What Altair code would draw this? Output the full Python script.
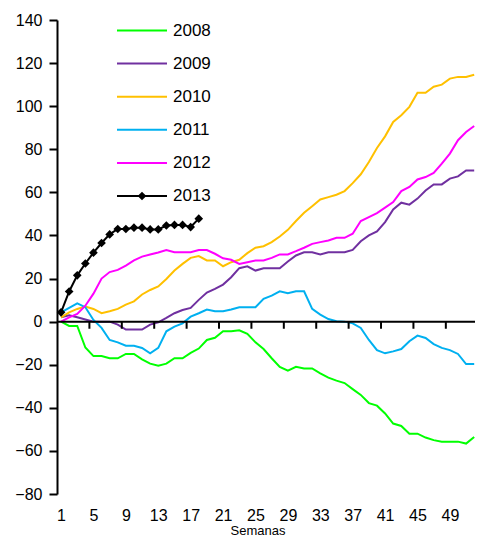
import altair as alt
import pandas as pd

weeks = list(range(1, 53))
years = ["2008", "2009", "2010", "2011", "2012", "2013"]
colors = ["#00FF00", "#7030A0", "#FFC000", "#00B0F0", "#FF00FF", "#000000"]

s2008 = [0, -2, -2, -12, -16, -16, -17, -17, -15, -15, -17.5, -19.5, -20.5, -19.5, -17, -17,
         -14.5, -12.5, -8.5, -7.5, -4.5, -4.5,
         -4, -5.7, -9.6, -12.7, -17, -21, -22.8, -21, -21.7, -21.7, -24, -26, -27.4, -28.5,
         -31.3, -34, -37.8, -39, -42.6, -47.3, -48.4, -52, -52, -53.8, -55, -55.7, -55.7,
         -55.7, -56.6, -53.5]
s2009 = [2, 3, 2, 1, 0, 0, 0, -1.4, -3.7, -3.7, -3.7, -1.4, -0.3, 1.7, 3.9, 5.4, 6.4, 10.1,
         13.5, 15.2, 17.2, 20.6,
         24.8, 25.7, 23.7, 24.8, 24.8, 24.8, 27.9, 30.7, 32.2, 32.2, 31.2, 32.2, 32.2, 32.2,
         33.3, 37.3, 40, 41.9, 46.2, 52.1, 55.2, 54.3, 57.1, 60.9, 63.7, 63.7, 66.4, 67.4,
         70.2, 70.2]
s2010 = [2, 4.3, 5.9, 7, 5.9, 3.9, 4.8, 5.9, 7.9, 9.4, 12.6, 14.7, 16.3, 19.8, 23.7, 26.8,
         29.6, 30.4, 28.4, 28.4, 25.7, 27.6,
         28.7, 31.8, 34.3, 35, 36.9, 39.5, 42.6, 46.7, 50.5, 53.6, 56.7, 57.8, 58.9, 60.6,
         64.3, 68.4, 74.1, 80.6, 86, 92.7, 95.8, 99.7, 106.2, 106.2, 109, 110, 112.8, 113.6,
         113.6, 114.6]
s2011 = [4.3, 6.4, 8.5, 6.7, 0.8, -2.9, -8.5, -9.6, -11.2, -11.2, -12.2, -14.7, -12.2, -4.5,
         -2.3, -0.8, 2.3, 3.9, 5.6, 4.8, 4.8, 5.6,
         6.7, 6.7, 6.7, 10.6, 12.1, 14.1, 13.2, 14.1, 14.1, 5.9, 3.3, 1.2, 0.2, 0, -0.8, -2.9,
         -8.5, -13.2, -14.7, -13.8, -12.7, -9.1, -6.5, -7.6, -10.4, -12.2, -13.2, -15, -19.7,
         -19.7]
s2012 = [0, 2, 3.6, 7.4, 13, 20, 23, 24, 26, 28.4, 30.2, 31.2, 32.1, 33.2, 32.2, 32.2, 32.2,
         33.2, 33.2, 31.5, 29.4, 28.7,
         26.8, 27.6, 28.4, 28.4, 29.6, 31.2, 31.2, 32.7, 34.3, 36.1, 36.9, 37.7, 38.9, 38.9,
         40.8, 46.7, 48.5, 50.4, 52.9, 55.5, 60.6, 62.5, 66, 67.1, 69, 73.3, 78, 84.2, 88, 90.8]
s2013 = [4.3, 14, 21.5, 27, 32, 36.5, 40.5, 43, 43, 43.6, 43.6, 42.8, 42.8, 44.6, 44.9, 44.9,
         43.9, 47.8]
series = [s2008, s2009, s2010, s2011, s2012, s2013]

x_label_values = [1, 5, 9, 13, 17, 21, 25, 29, 33, 37, 41, 45, 49]
x_tick_values = [4.5, 8.5, 12.5, 16.5, 20.5, 24.5, 28.5, 32.5, 36.5, 40.5, 44.5, 48.5]
y_tick_values = [-80, -60, -40, -20, 0, 20, 40, 60, 80, 100, 120, 140]

rows = []
for yr, vals in zip(years, series):
    for w, v in zip(weeks, vals):
        rows.append({"week": w, "value": v, "year": yr})
df = pd.DataFrame(rows)

W, H = 418, 474
FONT = "Liberation Sans"
xscale = alt.Scale(domain=[0.5, 52.1], nice=False, zero=False)
yscale = alt.Scale(domain=[-80, 140], nice=False, zero=False)

xaxis = alt.Axis(values=x_label_values, ticks=False, domain=False, grid=False,
                 title="Semanas", labelFont=FONT, labelFontSize=16,
                 labelColor="black", labelPadding=13, labelFlush=False,
                 labelOverlap=False,
                 titleFont=FONT, titleFontSize=13, titleFontWeight="normal",
                 titleColor="black", titleX=200.5, titleY=40,
                 titleBaseline="alphabetic")
yaxis = alt.Axis(values=y_tick_values, grid=False, title=None, tickSize=8,
                 tickWidth=2, tickColor="black", domainWidth=2,
                 domainColor="black", labelFont=FONT, labelFontSize=16,
                 labelColor="black", labelPadding=7, labelFlush=False,
                 labelOverlap=False)

lines = alt.Chart(df).mark_line(strokeWidth=2).encode(
    x=alt.X("week:Q", scale=xscale, axis=xaxis),
    y=alt.Y("value:Q", scale=yscale, axis=yaxis),
    color=alt.Color("year:N", scale=alt.Scale(domain=years, range=colors), legend=None),
)

zero_line = alt.Chart(pd.DataFrame({"v": [0]})).mark_rule(
    color="black", strokeWidth=2).encode(
    y=alt.Y("v:Q", scale=yscale, axis=yaxis), x=alt.value(0), x2=alt.value(W))

ticks = alt.Chart(pd.DataFrame({"t": x_tick_values, "a": 0, "b": -3.3})).mark_rule(
    color="black", strokeWidth=2).encode(
    x=alt.X("t:Q", scale=xscale, axis=xaxis),
    y=alt.Y("a:Q", scale=yscale, axis=yaxis), y2="b:Q")

d2013 = df[df["year"] == "2013"]
diamonds = alt.Chart(d2013).mark_point(
    shape="diamond", filled=True, size=75, color="black", opacity=1).encode(
    x=alt.X("week:Q", scale=xscale, axis=xaxis),
    y=alt.Y("value:Q", scale=yscale, axis=yaxis))

legend_layers = []
for i, (yr, c) in enumerate(zip(years, colors)):
    ly = 10.5 + 33.1 * i
    ldf = pd.DataFrame({"year": [yr]})
    legend_layers.append(alt.Chart(ldf).mark_rule(color=c, strokeWidth=2).encode(
        x=alt.value(60), x2=alt.value(110), y=alt.value(ly)))
    legend_layers.append(alt.Chart(ldf).mark_text(
        align="left", baseline="middle", font=FONT, fontSize=17, color="black").encode(
        x=alt.value(116), y=alt.value(ly), text="year:N"))
    if yr == "2013":
        legend_layers.append(alt.Chart(ldf).mark_point(
            shape="diamond", filled=True, size=75, color="black", opacity=1).encode(
            x=alt.value(85), y=alt.value(ly)))

chart = alt.layer(lines, zero_line, ticks, diamonds, *legend_layers).properties(
    width=W, height=H,
    padding={"left": 49, "top": 12, "right": 0, "bottom": 44},
    autosize=alt.AutoSizeParams(type="none"),
).configure_view(stroke=None).configure_axis(labelOverlap=False)

chart.save("out.html", embed_options={"renderer": "svg", "actions": False})
